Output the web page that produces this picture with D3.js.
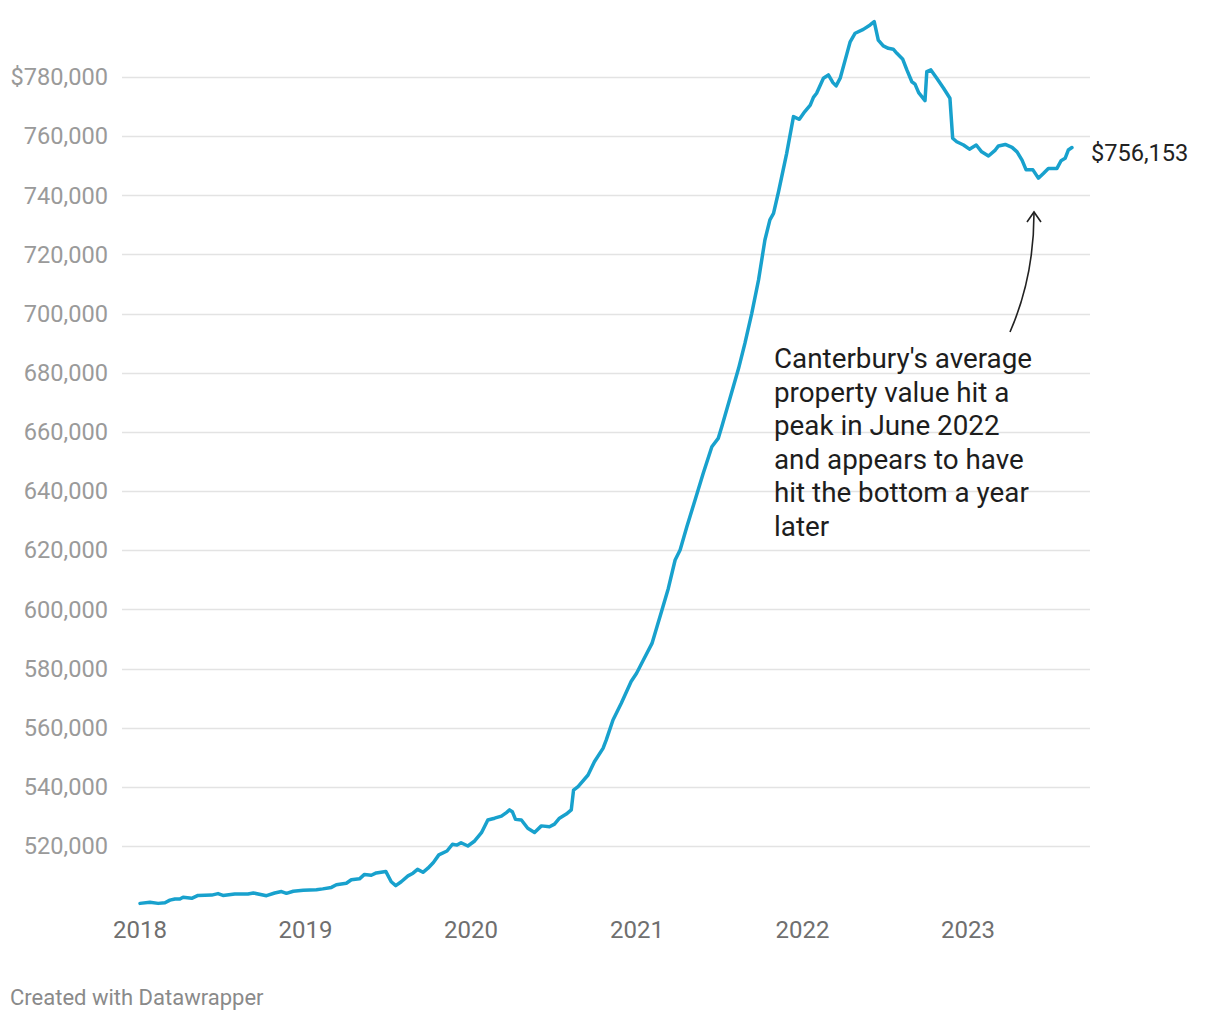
<!DOCTYPE html>
<html>
<head>
<meta charset="utf-8">
<script src="https://cdn.jsdelivr.net/npm/d3@7"></script>
<style>
  html, body { margin: 0; padding: 0; background: #fff; }
  svg { display: block; font-family: Roboto, "Noto Sans", sans-serif; }
</style>
</head>
<body>
<svg id="chart" width="1220" height="1020"></svg>
<script>
const dates = [
"2018-01-01","2018-01-23","2018-02-10","2018-02-25","2018-03-08","2018-03-19","2018-03-30","2018-04-06","2018-04-25","2018-05-09",
"2018-06-08","2018-06-22","2018-07-03","2018-07-29","2018-08-27","2018-09-08","2018-10-07","2018-10-25","2018-11-09","2018-11-20",
"2018-12-05","2018-12-27","2019-01-25","2019-02-08","2019-02-27","2019-03-10","2019-04-01","2019-04-12","2019-04-30","2019-05-11",
"2019-05-26","2019-06-06","2019-06-27","2019-07-09","2019-07-19","2019-07-31","2019-08-15","2019-08-26","2019-09-05","2019-09-17",
"2019-09-28","2019-10-10","2019-10-22","2019-11-09","2019-11-21","2019-12-01","2019-12-10","2019-12-25","2020-01-09","2020-01-24",
"2020-02-07","2020-02-22","2020-03-08","2020-03-19","2020-03-26","2020-04-01","2020-04-08","2020-04-21","2020-05-05","2020-05-20",
"2020-06-04","2020-06-22","2020-07-03","2020-07-14","2020-07-29","2020-08-09","2020-08-14","2020-08-24","2020-09-15","2020-09-29",
"2020-10-18","2020-10-25","2020-11-09","2020-11-27","2020-12-19","2020-12-31","2021-01-15","2021-02-03","2021-02-14","2021-02-25",
"2021-03-11","2021-03-26","2021-04-06","2021-04-21","2021-05-09","2021-05-27","2021-06-15","2021-06-29","2021-07-07","2021-07-25",
"2021-08-13","2021-08-27","2021-09-11","2021-09-26","2021-10-10","2021-10-21","2021-10-29","2021-11-09","2021-11-27","2021-12-12",
"2021-12-25","2022-01-06","2022-01-18","2022-01-25","2022-02-01","2022-02-16","2022-02-27","2022-03-09","2022-03-16","2022-03-25",
"2022-04-09","2022-04-16","2022-04-27","2022-05-15","2022-05-30","2022-06-08","2022-06-17","2022-06-28","2022-07-09","2022-07-20",
"2022-07-28","2022-08-10","2022-08-19","2022-08-30","2022-09-06","2022-09-14","2022-09-28","2022-10-02","2022-10-11","2022-10-24",
"2022-11-08","2022-11-22","2022-11-28","2022-12-07","2022-12-22","2023-01-04","2023-01-19","2023-01-31","2023-02-15","2023-03-02",
"2023-03-09","2023-03-24","2023-04-08","2023-04-19","2023-04-30","2023-05-09","2023-05-24","2023-06-05","2023-06-16","2023-06-27",
"2023-07-16","2023-07-25","2023-08-03","2023-08-10","2023-08-18"
];
const values = [
500600,501000,500600,500800,501700,502100,502100,502700,502300,503300,
503400,503900,503300,503800,503800,504100,503200,504100,504600,504000,
504700,505000,505200,505500,506000,506900,507400,508600,508900,510400,
510100,510900,511400,507900,506600,507900,509900,510800,512100,511100,
512500,514400,517000,518300,520600,520300,521100,520000,521700,524500,
528800,529400,530100,531300,532200,531600,529000,528800,526000,524600,
526800,526500,527400,529400,530800,532200,538900,540100,544000,548500,
553000,555800,562600,568200,575600,578400,582900,588500,594100,599800,
607100,616700,620100,628000,637000,646000,655000,657800,661800,671400,
681500,690000,700100,711400,724900,731700,733900,741200,754200,766600,
765700,768300,770500,773100,774500,779600,780700,778100,777000,779600,
788000,791900,794800,796100,797600,798700,792500,790500,789700,789400,
788000,786000,782400,778400,777600,774700,772000,781800,782400,779600,
776200,772800,759300,758100,757000,755600,757000,754700,753300,755300,
756700,757200,756200,754700,751900,748600,748600,745800,747400,749100,
749100,751700,752500,755300,756153
];
const yTicks = [520000,540000,560000,580000,600000,620000,640000,660000,680000,700000,720000,740000,760000,780000];
const xTickYears = [2018,2019,2020,2021,2022,2023];
const endLabel = "$756,153";
const annotationLines = ["Canterbury's average","property value hit a","peak in June 2022","and appears to have","hit the bottom a year","later"];
const footer = "Created with Datawrapper";

const parse = d3.timeParse("%Y-%m-%d");
const data = dates.map((d, i) => ({date: parse(d), value: values[i]}));

const svg = d3.select("#chart");
const x = d3.scaleTime()
  .domain([new Date(2018,0,1), new Date(2024,0,1)])
  .range([140, 1133.6]);
const y = d3.scaleLinear()
  .domain([500000, 800000])
  .range([905.15, 17.85]);

// gridlines
svg.append("g").selectAll("line").data(yTicks).join("line")
  .attr("x1", 122).attr("x2", 1090)
  .attr("y1", d => Math.round(y(d)) + 0.5).attr("y2", d => Math.round(y(d)) + 0.5)
  .attr("stroke", "#e3e3e3").attr("stroke-width", 1.5);

// y labels
const fmt = d3.format(",");
svg.append("g").selectAll("text").data(yTicks).join("text")
  .attr("x", 108).attr("y", d => y(d)).attr("dy", "0.35em")
  .attr("text-anchor", "end")
  .attr("fill", "#9a9a9a").attr("font-size", 23.6)
  .text((d, i) => (i === yTicks.length - 1 ? "$" : "") + fmt(d));

// x labels
svg.append("g").selectAll("text").data(xTickYears).join("text")
  .attr("x", d => x(new Date(d,0,1))).attr("y", 930).attr("dy", "0.35em")
  .attr("text-anchor", "middle")
  .attr("fill", "#6f6f6f").attr("font-size", 24)
  .text(d => d);

// line
const line = d3.line().x(d => x(d.date)).y(d => y(d.value));
svg.append("path").datum(data)
  .attr("d", line)
  .attr("fill", "none").attr("stroke", "#18a1cd")
  .attr("stroke-width", 3.5).attr("stroke-linejoin", "round").attr("stroke-linecap", "round");

// end label
const last = data[data.length - 1];
svg.append("text")
  .attr("x", x(last.date) + 19).attr("y", y(last.value) + 5).attr("dy", "0.35em")
  .attr("fill", "#222").attr("font-size", 23.6)
  .text(endLabel);

// annotation text
const ann = svg.append("text").attr("fill", "#1d1d1d").attr("font-size", 27.8);
annotationLines.forEach((t, i) => {
  ann.append("tspan").attr("x", 774).attr("y", 368 + i * 33.6).text(t);
});

// arrow
svg.append("path")
  .attr("d", "M1010,332 C1024,300 1034,262 1034,213")
  .attr("fill", "none").attr("stroke", "#222").attr("stroke-width", 1.6);
svg.append("path")
  .attr("d", "M1027,222 L1034,212 L1041,222")
  .attr("fill", "none").attr("stroke", "#222").attr("stroke-width", 1.6)
  .attr("stroke-linejoin", "miter");

// footer
svg.append("text")
  .attr("x", 10).attr("y", 997).attr("dy", "0.35em")
  .attr("fill", "#8a8a8a").attr("font-size", 22)
  .text(footer);
</script>
</body>
</html>
